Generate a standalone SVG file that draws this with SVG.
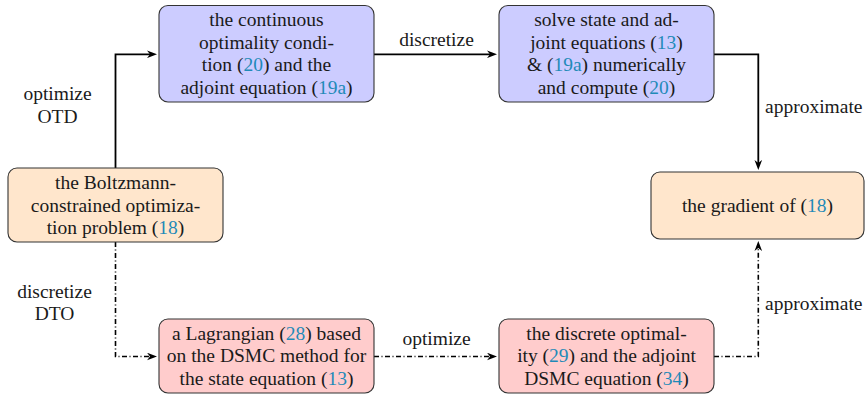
<svg xmlns="http://www.w3.org/2000/svg" width="865" height="395" viewBox="0 0 865 395">
<style>
text{font-family:"Liberation Serif","Times New Roman",serif;font-size:19.5px;fill:#1a1a1a;text-anchor:middle}
.r{fill:#1f8ab8}
.box{stroke:#333;stroke-width:1.1}
.blue{fill:#ccccff}
.orange{fill:#ffe6cc}
.red{fill:#ffcccc}
.solid{fill:none;stroke:#000;stroke-width:1.8}
.dd{fill:none;stroke:#000;stroke-width:1.6;stroke-dasharray:5 2.5 1 2.5}
.lab{text-anchor:start}
</style>
<defs>
<marker id="ah" viewBox="0 -4 10 8" markerWidth="10" markerHeight="8" refX="3" refY="0" markerUnits="userSpaceOnUse" orient="auto">
<path d="M10,0 L0,-3.8 L3,0 L0,3.8 Z" fill="#000"/>
</marker>
</defs>
<g id="connectors">
<path class="solid" d="M115.5,168 V54.3 H150" marker-end="url(#ah)"/>
<path class="solid" d="M374,54.3 H490" marker-end="url(#ah)"/>
<path class="solid" d="M714,54.3 H758.3 V163" marker-end="url(#ah)"/>
<path class="dd" d="M115.5,242 V356.5 H150" marker-end="url(#ah)"/>
<path class="dd" d="M374,356.5 H490" marker-end="url(#ah)"/>
<path class="dd" d="M714,356.5 H758.3 V248" marker-end="url(#ah)"/>
<text x="57.5" y="100">optimize</text>
<text x="57.5" y="122.5">OTD</text>
<text x="436.5" y="45.5">discretize</text>
<text class="lab" x="765" y="112.5">approximate</text>
<text x="54.5" y="297.5">discretize</text>
<text x="54.5" y="320">DTO</text>
<text x="436.5" y="345">optimize</text>
<text class="lab" x="765" y="309.5">approximate</text>
</g>
<g id="n-continuous">
<rect class="box blue" x="159" y="5.5" width="215" height="96.5" rx="9"/>
<text x="266.5" y="26">the continuous</text>
<text x="266.5" y="48.5">optimality condi-</text>
<text x="266.5" y="71">tion (<tspan class="r">20</tspan>) and the</text>
<text x="266.5" y="93.5">adjoint equation (<tspan class="r">19a</tspan>)</text>
</g>
<g id="n-solve">
<rect class="box blue" x="499" y="5.5" width="215" height="96.5" rx="9"/>
<text x="606.5" y="26">solve state and ad-</text>
<text x="606.5" y="48.5">joint equations (<tspan class="r">13</tspan>)</text>
<text x="606.5" y="71">&amp; (<tspan class="r">19a</tspan>) numerically</text>
<text x="606.5" y="93.5">and compute (<tspan class="r">20</tspan>)</text>
</g>
<g id="n-boltzmann">
<rect class="box orange" x="8" y="168" width="215" height="74" rx="9"/>
<text x="115.5" y="189">the Boltzmann-</text>
<text x="115.5" y="211.5">constrained optimiza-</text>
<text x="115.5" y="234">tion problem (<tspan class="r">18</tspan>)</text>
</g>
<g id="n-gradient">
<rect class="box orange" x="651" y="172" width="213" height="67" rx="9"/>
<text x="757.5" y="211.5">the gradient of (<tspan class="r">18</tspan>)</text>
</g>
<g id="n-lagrangian">
<rect class="box red" x="159" y="319" width="215" height="74" rx="9"/>
<text x="266.5" y="339.5">a Lagrangian (<tspan class="r">28</tspan>) based</text>
<text x="266.5" y="362">on the DSMC method for</text>
<text x="266.5" y="384.5">the state equation (<tspan class="r">13</tspan>)</text>
</g>
<g id="n-discrete">
<rect class="box red" x="499" y="319" width="215" height="74" rx="9"/>
<text x="606.5" y="339.5">the discrete optimal-</text>
<text x="606.5" y="362">ity (<tspan class="r">29</tspan>) and the adjoint</text>
<text x="606.5" y="384.5">DSMC equation (<tspan class="r">34</tspan>)</text>
</g>
</svg>
